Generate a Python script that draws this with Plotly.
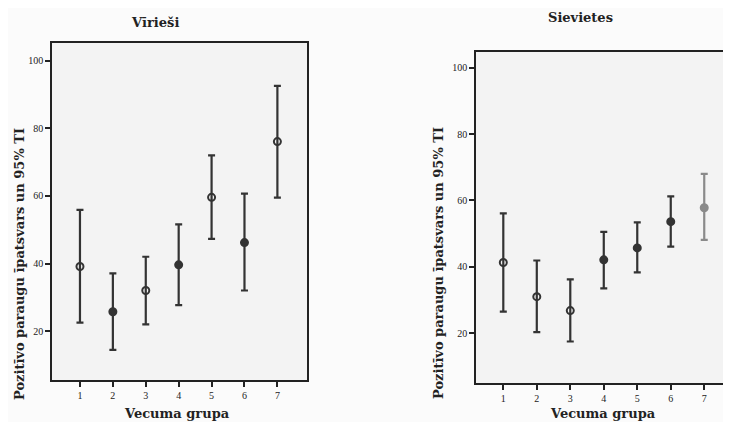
import plotly.graph_objects as go

# ---- data ----
groups = [1, 2, 3, 4, 5, 6, 7]
tick_vals_y = [20, 40, 60, 80, 100]

men_mean = [39.1, 25.7, 32.0, 39.6, 59.6, 46.2, 76.1]
men_upper = [55.9, 37.1, 42.0, 51.6, 72.0, 60.7, 92.6]
men_lower = [22.5, 14.4, 22.0, 27.7, 47.3, 32.0, 59.5]

women_mean = [41.3, 31.0, 26.8, 42.1, 45.7, 53.6, 57.8]
women_upper = [56.1, 41.9, 36.2, 50.5, 53.4, 61.2, 68.0]
women_lower = [26.5, 20.3, 17.5, 33.5, 38.3, 46.1, 48.1]

title_men = "Vīrieši"
title_women = "Sievietes"
y_title = "Pozitīvo paraugu īpatsvars un 95% TI"
x_title = "Vecuma grupa"

# ---- styles ----
# the page body has an 8px margin, so the figure is 16px smaller than the window
OFF = 8
W, H = 731 - 2 * OFF, 430 - 2 * OFF
DARK = "#333333"
GREY = "#8a8a8a"
FONT = "Liberation Serif"
TFONT = "DejaVu Serif"
men_symbols = ["circle-open", "circle", "circle-open", "circle", "circle-open", "circle", "circle-open"]
women_symbols = ["circle-open", "circle-open", "circle-open", "circle", "circle", "circle", "circle"]
women_colors = [DARK] * 6 + [GREY]


def px(x):
    return (x - OFF) / W


def py(y):
    return 1 - (y - OFF) / H


fig = go.Figure()


def add_panel(xs, mean, upper, lower, symbols, colors, xa, ya):
    for color in dict.fromkeys(colors):
        idx = [i for i, c in enumerate(colors) if c == color]
        fig.add_trace(go.Scatter(
            x=[xs[i] for i in idx],
            y=[mean[i] for i in idx],
            mode="markers",
            xaxis=xa, yaxis=ya,
            marker=dict(symbol=[symbols[i] for i in idx], size=7, color=color,
                        line=dict(color=color, width=2)),
            error_y=dict(type="data", symmetric=False,
                         array=[upper[i] - mean[i] for i in idx],
                         arrayminus=[mean[i] - lower[i] for i in idx],
                         color=color, thickness=2.2, width=3.5),
            showlegend=False,
        ))


add_panel(groups, men_mean, men_upper, men_lower, men_symbols, [DARK] * 7, "x", "y")
add_panel(groups, women_mean, women_upper, women_lower, women_symbols, women_colors, "x2", "y2")

axis_common = dict(
    showgrid=False, zeroline=False, showline=True,
    linecolor="#222222", linewidth=1.5,
    ticks="outside", ticklen=5, tickwidth=1.5, tickcolor="#222222",
    tickfont=dict(family=FONT, size=10, color="#222222"),
)

fig.update_layout(
    width=W, height=H,
    margin=dict(l=0, r=0, t=0, b=0),
    paper_bgcolor="#fbfbfb",
    plot_bgcolor="#f3f3f3",
    xaxis=dict(domain=[px(52), px(307)], range=[0.15, 7.9], anchor="y", mirror=True,
               tickvals=groups, **axis_common),
    yaxis=dict(domain=[py(380), py(43)], range=[5.5, 105.3], anchor="x", mirror=True,
               tickvals=tick_vals_y, **axis_common),
    xaxis2=dict(domain=[px(476), 1.0], range=[0.185, 7.56], anchor="y2", mirror=True,
                tickvals=groups, **axis_common),
    yaxis2=dict(domain=[py(383), py(52)], range=[5.0, 104.7], anchor="x2", mirror=False,
                tickvals=tick_vals_y, **axis_common),
)

ann_font = dict(family=TFONT, size=13, color="#222222")
fig.add_annotation(text="<b>%s</b>" % title_men, x=px(155), y=py(22), xref="paper", yref="paper",
                   showarrow=False, font=ann_font, xanchor="center", yanchor="middle")
fig.add_annotation(text="<b>%s</b>" % title_women, x=px(580), y=py(18), xref="paper", yref="paper",
                   showarrow=False, font=ann_font, xanchor="center", yanchor="middle")
fig.add_annotation(text="<b>%s</b>" % x_title, x=px(177), y=py(413), xref="paper", yref="paper",
                   showarrow=False, font=ann_font, xanchor="center", yanchor="middle")
fig.add_annotation(text="<b>%s</b>" % x_title, x=px(603), y=py(413), xref="paper", yref="paper",
                   showarrow=False, font=ann_font, xanchor="center", yanchor="middle")
fig.add_annotation(text="<b>%s</b>" % y_title, x=px(19), y=py(264), xref="paper", yref="paper",
                   showarrow=False, font=ann_font, textangle=-90, xanchor="center", yanchor="middle")
fig.add_annotation(text="<b>%s</b>" % y_title, x=px(439), y=py(263), xref="paper", yref="paper",
                   showarrow=False, font=ann_font, textangle=-90, xanchor="center", yanchor="middle")

fig.write_html("out.html")
